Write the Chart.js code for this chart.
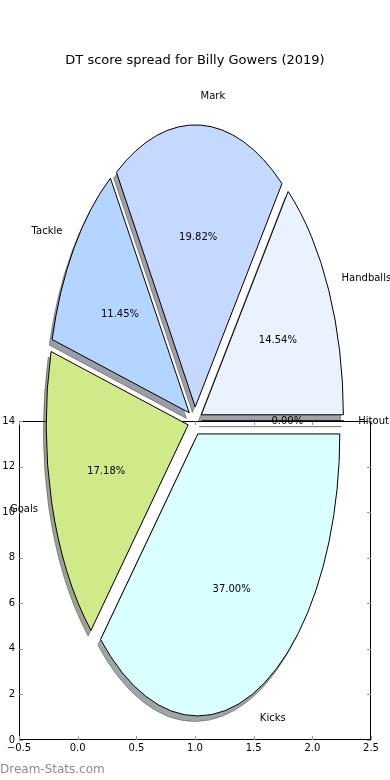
<!DOCTYPE html>
<html>
<head>
<meta charset="utf-8">
<script src="https://cdn.jsdelivr.net/npm/chart.js@4.4.1/dist/chart.umd.min.js"></script>
<style>
  body { margin: 0; background: #fff; }
  #wrap { position: relative; width: 390px; height: 780px; overflow: hidden; font-family: "DejaVu Sans", sans-serif; }
  .layer { position: absolute; left: 0; top: 0; width: 390px; height: 780px; }
  #title { position: absolute; left: 0; width: 390px; top: 52px; text-align: center; font-size: 13px; color: #000; }
  #mark { position: absolute; left: 0; top: 762px; font-size: 12px; color: #8c8c8c; }
</style>
</head>
<body>
<div id="wrap">
  <div class="layer"><canvas id="axesChart"></canvas></div>
  <div class="layer"><canvas id="pieChart"></canvas></div>
  <div id="title">DT score spread for Billy Gowers (2019)</div>
  <div id="mark">Dream-Stats.com</div>
</div>
<script>
// data (matplotlib order, counter-clockwise from 3 o'clock)
const categories = ["Handballs", "Mark", "Tackle", "Goals", "Kicks", "Hitout"];
const shares = [14.54, 19.82, 11.45, 17.18, 37.00, 0.00];
const wedgeColours = ["#eaf1ff", "#c5d9ff", "#b3d5ff", "#d0ea8a", "#d9ffff", "#ffffff"];
const xTicks = [-0.5, 0.0, 0.5, 1.0, 1.5, 2.0, 2.5];
const yTicks = [0, 2, 4, 6, 8, 10, 12, 14];

Chart.defaults.font.family = "DejaVu Sans";
Chart.defaults.color = "#000";

// chart.js goes clockwise from the top, so flip the order and start at 3 o'clock
const order = categories.map((_, i) => i).reverse();

const stretch = 282 / 142; // pie is squashed like the matplotlib axes
const explode = 7.1;       // 0.05 of the radius
const shadowShift = { x: -2.8, y: 5.6 };

function shadowOf(hex) {
  const n = parseInt(hex.slice(1), 16);
  const r = (n >> 16) & 255, g = (n >> 8) & 255, b = n & 255;
  return `rgba(${Math.round(r * 0.3)},${Math.round(g * 0.3)},${Math.round(b * 0.3)},0.5)`;
}

function squash(ctx, cx, cy) {
  ctx.translate(cx, cy);
  ctx.scale(1, stretch);
  ctx.translate(-cx, -cy);
}

function wedgeGeom(arc) {
  const p = arc.getProps(["x", "y", "startAngle", "endAngle", "outerRadius"]);
  const mid = (p.startAngle + p.endAngle) / 2;
  return {
    x: p.x + Math.cos(mid) * explode,
    y: p.y + Math.sin(mid) * explode,
    r: p.outerRadius, mid: mid,
    start: p.startAngle, end: p.endAngle
  };
}

function wedgePath(ctx, g) {
  ctx.beginPath();
  ctx.moveTo(g.x, g.y);
  ctx.arc(g.x, g.y, g.r, g.start, g.end);
  ctx.closePath();
}

const ovalPie = {
  id: "ovalPie",
  beforeDatasetsDraw(chart) {
    const ctx = chart.ctx;
    const dpr = chart.currentDevicePixelRatio;
    const arcs = chart.getDatasetMeta(0).data;
    const cx = arcs[0].x, cy = arcs[0].y;
    // push every wedge out along its middle, like matplotlib's explode
    arcs.forEach((arc) => {
      if (arc._exploded) return;
      const base = arc.draw;
      arc.draw = function (c) {
        const m = (this.startAngle + this.endAngle) / 2;
        c.save();
        c.translate(Math.cos(m) * explode, Math.sin(m) * explode);
        base.call(this, c);
        c.restore();
      };
      arc._exploded = true;
    });
    // shadows first, all below the wedges
    arcs.forEach((arc, k) => {
      const g = wedgeGeom(arc);
      const col = shadowOf(wedgeColours[order[k]]);
      ctx.save();
      ctx.translate(shadowShift.x, shadowShift.y);
      squash(ctx, cx, cy);
      wedgePath(ctx, g);
      ctx.setTransform(dpr, 0, 0, dpr, 0, 0);
      ctx.fillStyle = col;
      ctx.fill();
      ctx.strokeStyle = col;
      ctx.lineWidth = 1;
      ctx.stroke();
      ctx.restore();
    });
    ctx.save();
    squash(ctx, cx, cy);
  },
  afterDatasetsDraw(chart) {
    const ctx = chart.ctx;
    const dpr = chart.currentDevicePixelRatio;
    ctx.restore();
    const arcs = chart.getDatasetMeta(0).data;
    const cx = arcs[0].x, cy = arcs[0].y;
    // outlines with an even line width
    arcs.forEach((arc) => {
      const g = wedgeGeom(arc);
      ctx.save();
      squash(ctx, cx, cy);
      wedgePath(ctx, g);
      ctx.setTransform(dpr, 0, 0, dpr, 0, 0);
      ctx.strokeStyle = "#000";
      ctx.lineWidth = 1;
      ctx.stroke();
      ctx.restore();
    });
    // names and percentages
    ctx.save();
    ctx.font = "10px 'DejaVu Sans'";
    ctx.fillStyle = "#000";
    ctx.textBaseline = "middle";
    arcs.forEach((arc, k) => {
      const g = wedgeGeom(arc);
      const i = order[k];
      const c = Math.cos(g.mid), s = Math.sin(g.mid);
      const px = (f) => g.x + c * g.r * f;
      const py = (f) => cy + (g.y - cy + s * g.r * f) * stretch;
      ctx.textAlign = "center";
      ctx.fillText(shares[i].toFixed(2) + "%", px(0.6), py(0.6));
      ctx.textAlign = c > 0 ? "left" : "right";
      ctx.fillText(categories[i], px(1.1), py(1.1));
    });
    ctx.restore();
  }
};

new Chart(document.getElementById("pieChart"), {
  type: "pie",
  data: {
    labels: order.map((i) => categories[i]),
    datasets: [{
      data: order.map((i) => shares[i]),
      backgroundColor: order.map((i) => wedgeColours[i]),
      borderWidth: 0,
      clip: false
    }]
  },
  options: {
    responsive: true,
    maintainAspectRatio: false,
    animation: false,
    events: [],
    rotation: 90,
    radius: 142,
    layout: { padding: { top: 62 } },
    plugins: { legend: { display: false }, tooltip: { enabled: false } }
  },
  plugins: [ovalPie]
});

// axes frame with inward ticks
const frameTicks = {
  id: "frameTicks",
  afterDraw(chart) {
    const { ctx, chartArea: a, scales } = chart;
    ctx.save();
    ctx.strokeStyle = "#000";
    ctx.lineWidth = 1;
    ctx.strokeRect(a.left + 0.5, a.top + 0.5, a.width - 1, a.height - 1);
    ctx.strokeStyle = "#999";
    ctx.beginPath();
    scales.x.ticks.forEach((t) => {
      const x = Math.round(scales.x.getPixelForValue(t.value)) + 0.5;
      ctx.moveTo(x, a.bottom); ctx.lineTo(x, a.bottom - 4);
      ctx.moveTo(x, a.top); ctx.lineTo(x, a.top + 4);
    });
    scales.y.ticks.forEach((t) => {
      const y = Math.round(scales.y.getPixelForValue(t.value)) + 0.5;
      ctx.moveTo(a.left, y); ctx.lineTo(a.left + 4, y);
      ctx.moveTo(a.right, y); ctx.lineTo(a.right - 4, y);
    });
    ctx.stroke();
    ctx.restore();
  }
};

const fmt = (v, d) => v.toFixed(d).replace("-", "\u2212");

new Chart(document.getElementById("axesChart"), {
  type: "scatter",
  data: { datasets: [{ data: [] }] },
  options: {
    responsive: true,
    maintainAspectRatio: false,
    animation: false,
    events: [],
    layout: { padding: { top: 421, right: 19, left: 0, bottom: 0 } },
    plugins: { legend: { display: false }, tooltip: { enabled: false } },
    scales: {
      x: {
        type: "linear",
        min: xTicks[0], max: xTicks[xTicks.length - 1],
        afterBuildTicks: (s) => { s.ticks = xTicks.map((v) => ({ value: v })); },
        ticks: { callback: (v) => fmt(v, 1), font: { size: 10 }, color: "#000", padding: 2, maxRotation: 0, autoSkip: false },
        grid: { display: false, drawTicks: false },
        border: { display: false },
        afterFit: (s) => { s.height = 40; }
      },
      y: {
        type: "linear",
        min: yTicks[0], max: yTicks[yTicks.length - 1],
        afterBuildTicks: (s) => { s.ticks = yTicks.map((v) => ({ value: v })); },
        ticks: { callback: (v) => fmt(v, 0), font: { size: 10 }, color: "#000", padding: 4, autoSkip: false },
        grid: { display: false, drawTicks: false },
        border: { display: false },
        afterFit: (s) => { s.width = 19; }
      }
    }
  },
  plugins: [frameTicks]
});
</script>
</body>
</html>
